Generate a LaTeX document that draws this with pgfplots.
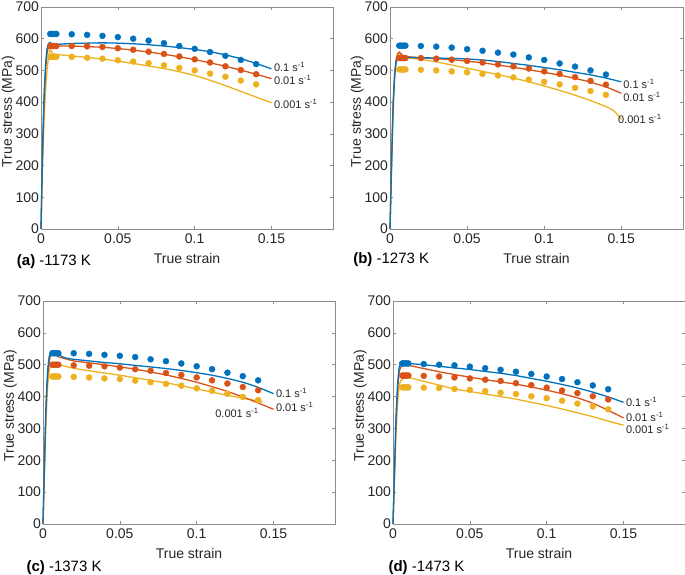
\documentclass[border=0pt]{standalone}
\usepackage{pgfplots}
\pgfplotsset{compat=1.18}
\usepackage{fontspec}
\setmainfont{Liberation Sans}
\definecolor{mblue}{HTML}{0072BD}
\definecolor{mred}{HTML}{D95319}
\definecolor{myel}{HTML}{EDB120}
\definecolor{txt}{HTML}{262626}
\newcommand\fs[1]{\fontsize{#1}{#1}\selectfont}
\tikzset{
  lab/.style={anchor=west, font=\fs{11}, text=txt, inner sep=0pt},
  plab/.style={anchor=west, font=\fs{15}, text=black, inner sep=0pt},
}
\pgfplotsset{
  panel/.style={
    scale only axis, anchor=south west,
    xmin=0, xmax=0.19, ymin=0, ymax=700,
    xtick={0,0.05,0.1,0.15}, xticklabels={0,0.05,0.1,0.15},
    ytick={0,100,200,300,400,500,600,700},
    yticklabels={0,100,200,300,400,500,600,700},
    tick align=inside, major tick length=3pt,
    axis line style={draw=black!45, line width=0.6pt},
    tick style={draw=black!45, line width=0.6pt},
    ticklabel style={font=\fs{14}, text=txt},
    xticklabel style={yshift=-1pt},
    yticklabel style={xshift=1.5pt},
    label style={font=\fs{14}, text=txt},
    xlabel={True strain}, ylabel={True stress (MPa)},
    xlabel style={at={(axis description cs:0.5,-0.134)}, anchor=center},
    ylabel style={at={(axis description cs:-0.112,0.53)}, anchor=center},
    clip=false,
  },
  dots/.style={only marks, mark=*, mark size=3pt},
  crv/.style={no marks, line width=1.3pt, smooth, tension=0.3},
}
\begin{document}
\begin{tikzpicture}
\useasboundingbox (0pt,0pt) rectangle (685pt,575pt);
% ---------------- (a)
\begin{axis}[panel, at={(41pt,346pt)}, width=292pt, height=222pt]
\addplot[dots, mblue, mark options={fill=mblue}] coordinates {(0.006,615)(0.007,615)(0.008,615)(0.009,615)(0.01,615)(0.02,614)(0.03,612)(0.04,609)(0.05,605)(0.06,600)(0.07,594)(0.08,586)(0.09,577)(0.10,568)(0.11,558)(0.12,546)(0.13,533)(0.14,520)};
\addplot[dots, mred, mark options={fill=mred}] coordinates {(0.006,577)(0.007,577)(0.008,577)(0.009,577)(0.01,577)(0.02,577)(0.03,576)(0.04,574)(0.05,570)(0.06,565)(0.07,559)(0.08,552)(0.09,544)(0.10,535)(0.11,525)(0.12,513)(0.13,501)(0.14,488)};
\addplot[dots, myel, mark options={fill=myel}] coordinates {(0.006,543)(0.007,543)(0.008,543)(0.009,543)(0.01,543)(0.02,543)(0.03,540)(0.04,537)(0.05,532)(0.06,528)(0.07,523)(0.08,516)(0.09,508)(0.10,500)(0.11,490)(0.12,480)(0.13,468)(0.14,456)};
\addplot[crv, myel] coordinates {(0,0)(0.001,200)(0.002,340)(0.003,440)(0.004,505)(0.005,545)(0.006,565)(0.007,558)(0.008,552)(0.01,550)(0.02,546)(0.03,541)(0.04,536)(0.05,529)(0.06,522)(0.07,514)(0.08,506)(0.09,496)(0.10,484)(0.11,469)(0.12,452)(0.13,434)(0.14,416)(0.15,398)};
\addplot[crv, mred] coordinates {(0,0)(0.001,230)(0.002,400)(0.003,500)(0.004,555)(0.005,575)(0.006,582)(0.007,579)(0.008,577)(0.01,577)(0.02,577)(0.03,575)(0.04,573)(0.05,569)(0.06,564)(0.07,558)(0.08,551)(0.09,543)(0.10,534)(0.11,524)(0.12,513)(0.13,501)(0.14,488)(0.15,474)};
\addplot[crv, mblue] coordinates {(0,0)(0.001,250)(0.002,420)(0.003,520)(0.004,570)(0.005,585)(0.006,588)(0.007,584)(0.008,582)(0.01,582)(0.02,585)(0.03,586)(0.04,587)(0.05,586)(0.06,584)(0.07,581)(0.08,577)(0.09,572)(0.10,566)(0.11,559)(0.12,549)(0.13,537)(0.14,522)(0.15,505)};
\node[lab] at (axis cs:0.1515,511) {0.1 s\textsuperscript{-1}};
\node[lab] at (axis cs:0.1515,469) {0.01 s\textsuperscript{-1}};
\node[lab] at (axis cs:0.1515,394) {0.001 s\textsuperscript{-1}};
\node[plab] at (axis description cs:-0.083,-0.147) {\textbf{(a)} -1173 K};
\end{axis}
% ---------------- (b)
\begin{axis}[panel, at={(390pt,346pt)}, width=293pt, height=222pt]
\addplot[dots, mblue, mark options={fill=mblue}] coordinates {(0.006,578)(0.007,578)(0.008,578)(0.009,578)(0.01,578)(0.02,577)(0.03,575)(0.04,572)(0.05,567)(0.06,562)(0.07,556)(0.08,550)(0.09,541)(0.10,533)(0.11,522)(0.12,512)(0.13,500)(0.14,487)};
\addplot[dots, mred, mark options={fill=mred}] coordinates {(0.006,539)(0.007,539)(0.008,539)(0.009,539)(0.01,539)(0.02,539)(0.03,537)(0.04,534)(0.05,530)(0.06,525)(0.07,519)(0.08,513)(0.09,506)(0.10,497)(0.11,489)(0.12,479)(0.13,467)(0.14,455)};
\addplot[dots, myel, mark options={fill=myel}] coordinates {(0.006,503)(0.007,503)(0.008,503)(0.009,503)(0.01,503)(0.02,502)(0.03,500)(0.04,497)(0.05,494)(0.06,489)(0.07,484)(0.08,478)(0.09,471)(0.10,464)(0.11,456)(0.12,445)(0.13,435)(0.14,423)};
\addplot[crv, myel] coordinates {(0,0)(0.001,190)(0.002,370)(0.003,480)(0.004,530)(0.005,550)(0.006,555)(0.007,548)(0.008,543)(0.01,540)(0.02,535)(0.03,527)(0.04,517)(0.05,507)(0.06,497)(0.07,487)(0.08,476)(0.09,464)(0.10,451)(0.11,437)(0.12,422)(0.13,405)(0.14,386)(0.145,373)(0.148,358)(0.15,346)};
\addplot[crv, mred] coordinates {(0,0)(0.001,210)(0.002,390)(0.003,490)(0.004,535)(0.005,553)(0.006,558)(0.007,553)(0.008,548)(0.01,544)(0.02,540)(0.03,537)(0.04,534)(0.05,529)(0.06,524)(0.07,517)(0.08,510)(0.09,502)(0.10,494)(0.11,485)(0.12,475)(0.13,463)(0.14,448)(0.15,428)};
\addplot[crv, mblue] coordinates {(0,0)(0.001,200)(0.002,380)(0.003,480)(0.004,525)(0.005,540)(0.006,545)(0.007,545)(0.008,543)(0.01,541)(0.02,540)(0.03,539)(0.04,538)(0.05,536)(0.06,533)(0.07,528)(0.08,522)(0.09,516)(0.10,509)(0.11,502)(0.12,494)(0.13,486)(0.14,476)(0.15,464)};
\node[lab] at (axis cs:0.1512,458) {0.1 s\textsuperscript{-1}};
\node[lab] at (axis cs:0.1512,418) {0.01 s\textsuperscript{-1}};
\node[lab] at (axis cs:0.1478,348) {0.001 s\textsuperscript{-1}};
\node[plab] at (axis description cs:-0.126,-0.138) {\textbf{(b)} -1273 K};
\end{axis}
% ---------------- (c)
\begin{axis}[panel, at={(43pt,51pt)}, width=292pt, height=223pt]
\addplot[dots, mblue, mark options={fill=mblue}] coordinates {(0.006,536)(0.007,536)(0.008,536)(0.009,536)(0.01,536)(0.02,536)(0.03,534)(0.04,531)(0.05,528)(0.06,524)(0.07,517)(0.08,511)(0.09,504)(0.10,495)(0.11,486)(0.12,475)(0.13,464)(0.14,451)};
\addplot[dots, mred, mark options={fill=mred}] coordinates {(0.006,500)(0.007,500)(0.008,500)(0.009,500)(0.01,500)(0.02,498)(0.03,497)(0.04,495)(0.05,491)(0.06,486)(0.07,481)(0.08,474)(0.09,468)(0.10,460)(0.11,451)(0.12,441)(0.13,430)(0.14,420)};
\addplot[dots, myel, mark options={fill=myel}] coordinates {(0.006,463)(0.007,463)(0.008,463)(0.009,463)(0.01,463)(0.02,462)(0.03,460)(0.04,457)(0.05,455)(0.06,450)(0.07,445)(0.08,440)(0.09,434)(0.10,426)(0.11,418)(0.12,409)(0.13,399)(0.14,389)};
\addplot[crv, myel] coordinates {(0,0)(0.001,170)(0.002,330)(0.003,430)(0.004,480)(0.005,498)(0.007,504)(0.01,500)(0.02,489)(0.03,481)(0.04,474)(0.05,467)(0.06,459)(0.07,451)(0.08,443)(0.09,434)(0.10,424)(0.11,414)(0.12,404)(0.13,395)(0.14,386)(0.143,383)};
\addplot[crv, mred] coordinates {(0,0)(0.001,190)(0.002,360)(0.003,460)(0.004,510)(0.005,528)(0.006,534)(0.007,535)(0.008,532)(0.01,525)(0.02,512)(0.03,506)(0.04,500)(0.05,493)(0.06,486)(0.07,477)(0.08,468)(0.09,457)(0.10,445)(0.11,431)(0.12,416)(0.13,399)(0.14,380)(0.15,360)};
\addplot[crv, mblue] coordinates {(0,0)(0.001,200)(0.002,380)(0.003,480)(0.004,525)(0.005,537)(0.006,540)(0.009,540)(0.01,535)(0.012,526)(0.015,521)(0.02,517)(0.03,512)(0.04,507)(0.05,503)(0.06,498)(0.07,493)(0.08,488)(0.09,482)(0.10,475)(0.11,467)(0.12,457)(0.13,445)(0.14,429)(0.15,409)};
\node[lab] at (axis cs:0.1515,411) {0.1 s\textsuperscript{-1}};
\node[lab] at (axis cs:0.1515,369) {0.01 s\textsuperscript{-1}};
\node[lab] at (axis cs:0.112,348) {0.001 s\textsuperscript{-1}};
\node[plab] at (axis description cs:-0.057,-0.196) {\textbf{(c)} -1373 K};
\end{axis}
% ---------------- (d)
\begin{axis}[panel, at={(393pt,51pt)}, width=292pt, height=223pt]
\addplot[dots, mblue, mark options={fill=mblue}] coordinates {(0.006,504)(0.007,504)(0.008,504)(0.009,504)(0.01,504)(0.02,502)(0.03,500)(0.04,498)(0.05,494)(0.06,489)(0.07,484)(0.08,478)(0.09,471)(0.10,463)(0.11,455)(0.12,445)(0.13,435)(0.14,423)};
\addplot[dots, mred, mark options={fill=mred}] coordinates {(0.006,466)(0.007,466)(0.008,466)(0.009,466)(0.01,466)(0.02,465)(0.03,463)(0.04,460)(0.05,457)(0.06,453)(0.07,449)(0.08,442)(0.09,436)(0.10,428)(0.11,419)(0.12,411)(0.13,401)(0.14,391)};
\addplot[dots, myel, mark options={fill=myel}] coordinates {(0.006,429)(0.007,429)(0.008,429)(0.009,429)(0.01,429)(0.02,428)(0.03,427)(0.04,424)(0.05,421)(0.06,417)(0.07,412)(0.08,408)(0.09,401)(0.10,395)(0.11,387)(0.12,378)(0.13,369)(0.14,360)};
\addplot[crv, myel] coordinates {(0,0)(0.001,150)(0.002,290)(0.003,380)(0.004,430)(0.005,450)(0.007,458)(0.01,460)(0.02,448)(0.03,436)(0.04,424)(0.05,416)(0.06,408)(0.07,400)(0.08,392)(0.09,382)(0.10,372)(0.11,361)(0.12,349)(0.13,337)(0.14,323)(0.15,310)};
\addplot[crv, mred] coordinates {(0,0)(0.001,160)(0.002,320)(0.003,420)(0.004,475)(0.005,492)(0.007,500)(0.01,498)(0.02,488)(0.03,478)(0.04,469)(0.05,461)(0.06,453)(0.07,446)(0.08,439)(0.09,430)(0.10,420)(0.11,409)(0.12,396)(0.13,379)(0.14,357)(0.15,333)};
\addplot[crv, mblue] coordinates {(0,0)(0.001,170)(0.002,340)(0.003,440)(0.004,490)(0.005,503)(0.006,507)(0.007,508)(0.008,506)(0.01,504)(0.02,500)(0.03,495)(0.04,490)(0.05,485)(0.06,479)(0.07,473)(0.08,466)(0.09,457)(0.10,448)(0.11,438)(0.12,427)(0.13,414)(0.14,399)(0.15,382)};
\node[lab] at (axis cs:0.1515,382) {0.1 s\textsuperscript{-1}};
\node[lab] at (axis cs:0.1515,335) {0.01 s\textsuperscript{-1}};
\node[lab] at (axis cs:0.1515,300) {0.001 s\textsuperscript{-1}};
\node[plab] at (axis description cs:-0.016,-0.196) {\textbf{(d)} -1473 K};
\end{axis}
\end{tikzpicture}
\end{document}
